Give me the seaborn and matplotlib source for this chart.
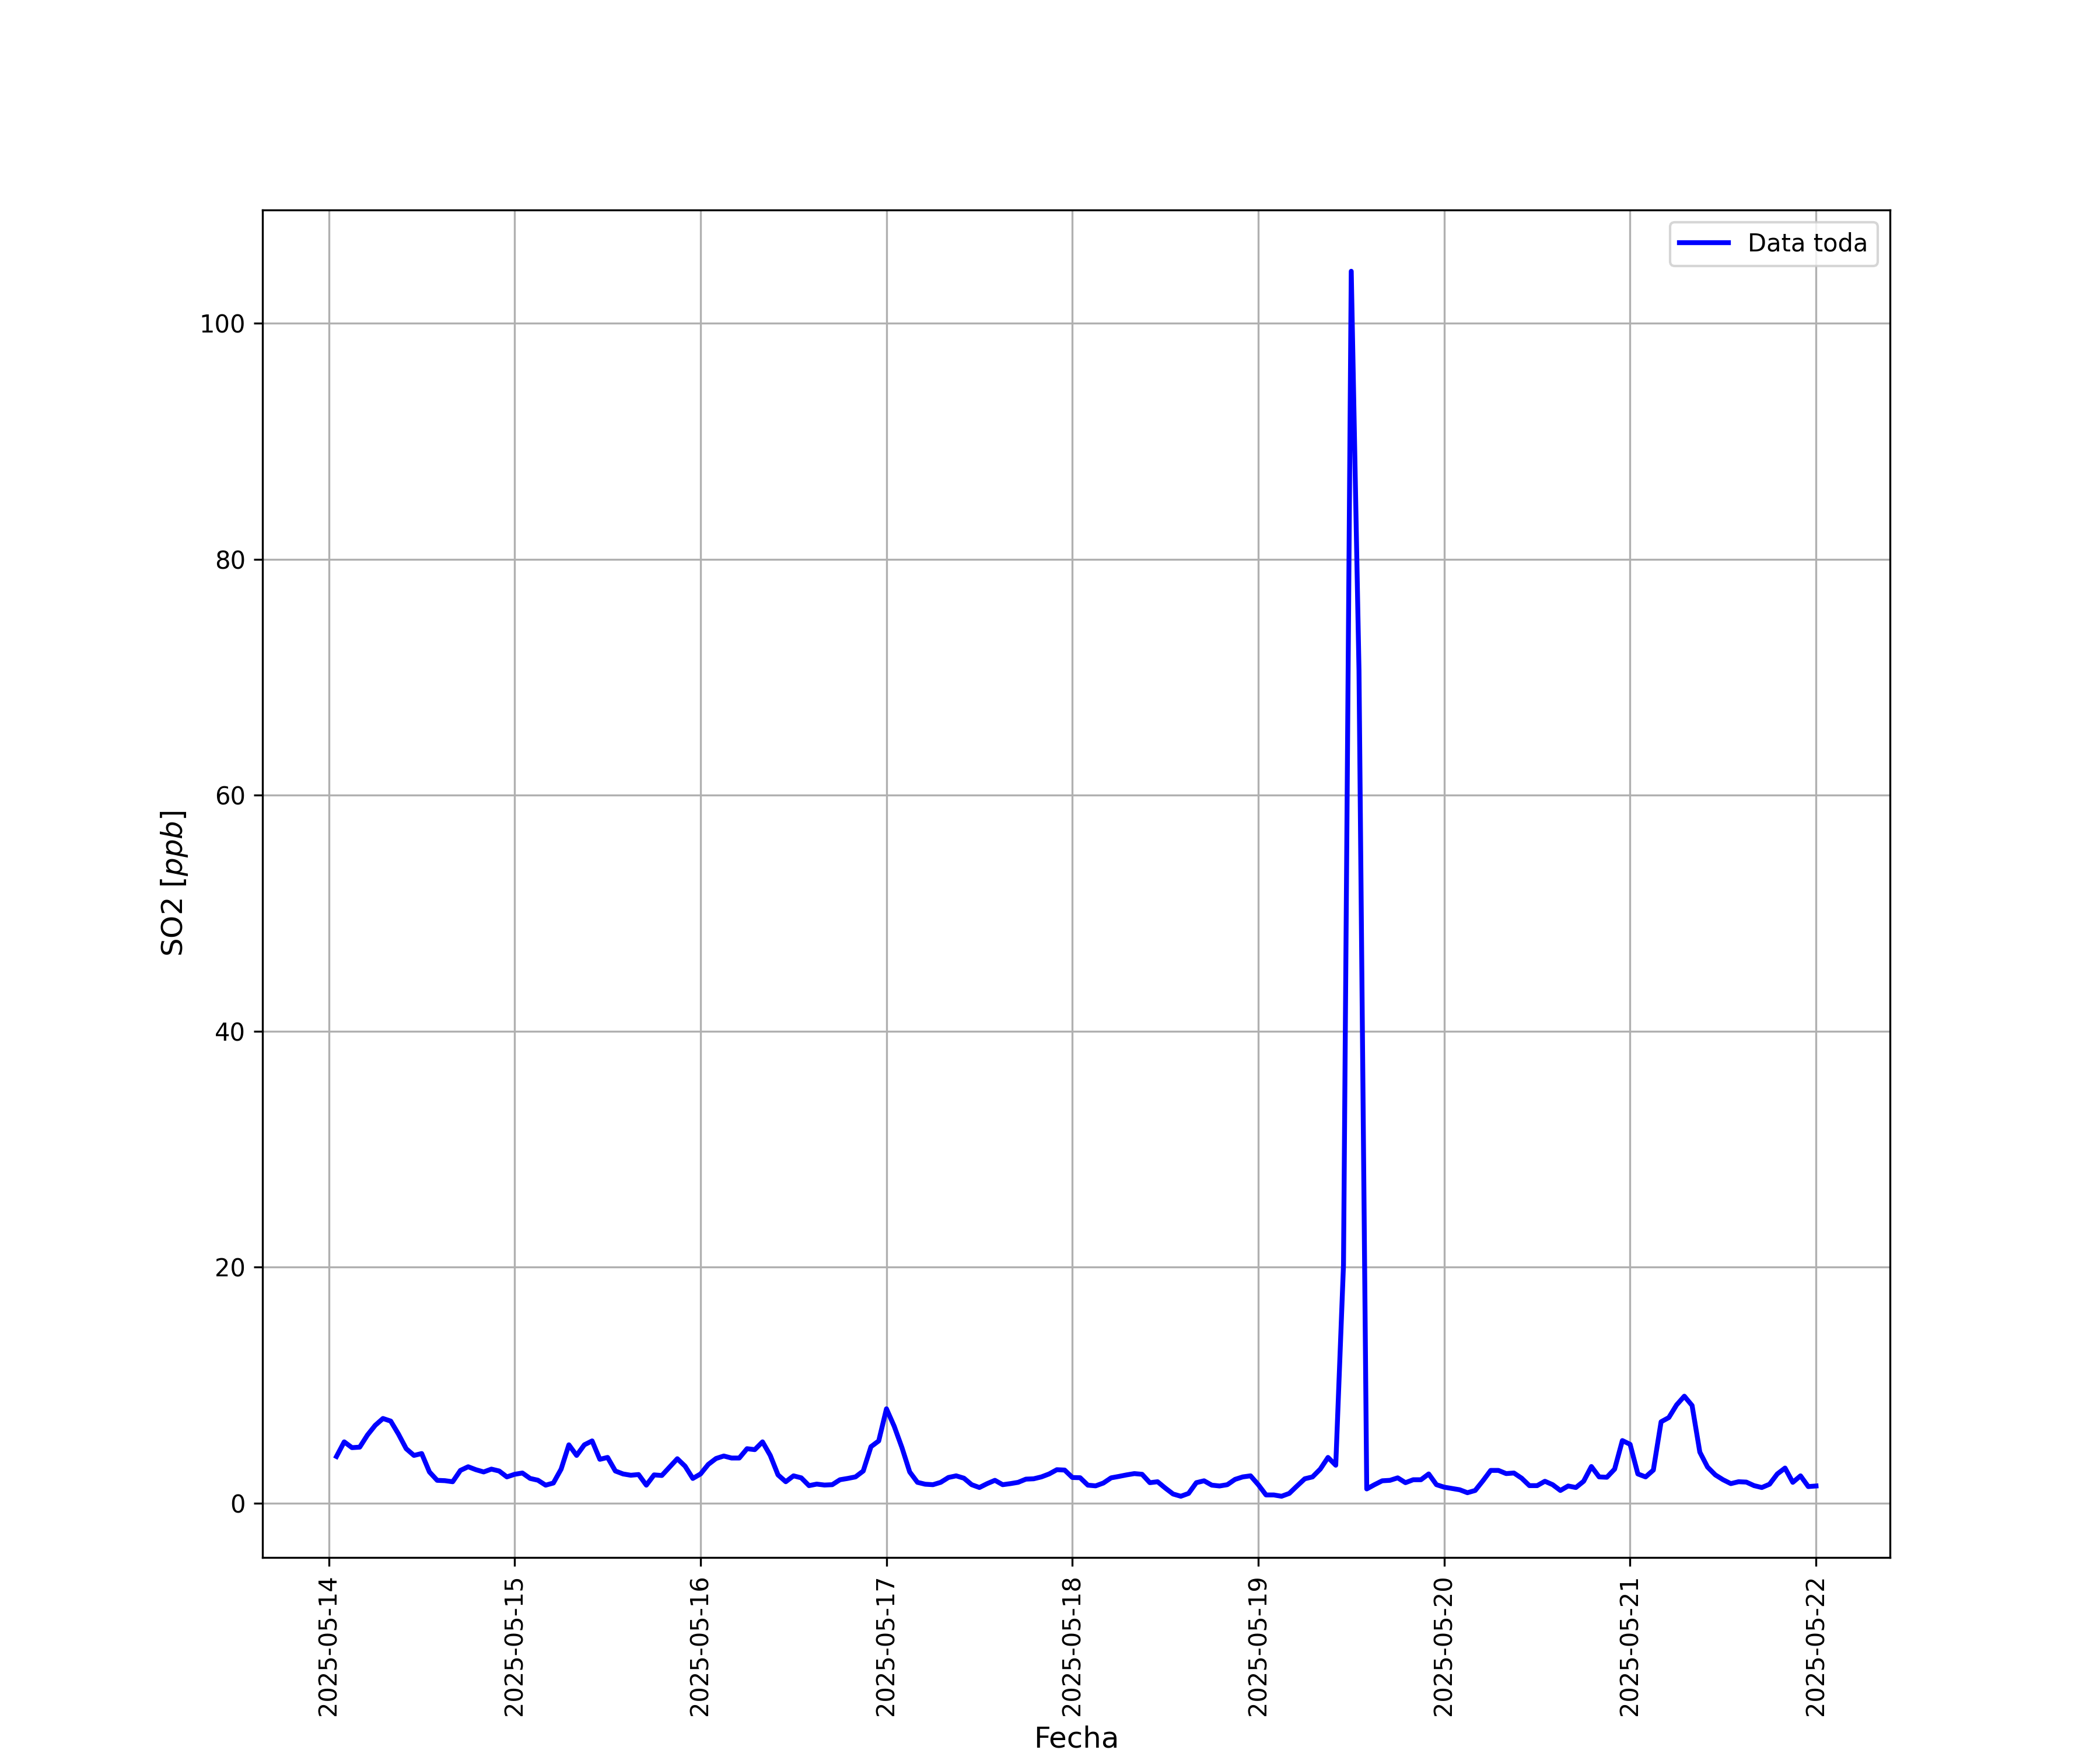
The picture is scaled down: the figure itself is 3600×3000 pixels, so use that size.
"""SO2 hourly series, May 14-22 2025."""

import matplotlib
matplotlib.use('Agg')
import matplotlib.pyplot as plt
import matplotlib.dates as mdates
import numpy as np
import pandas as pd
import seaborn as sns

# Hourly readings, starting 2025-05-14 01:00
start_time = '2025-05-14 01:00'

so2_may14 = [3.95, 5.19, 4.70, 4.74, 5.77, 6.59, 7.17, 6.95, 5.85, 4.61, 4.04, 4.20,
             2.64, 1.93, 1.90, 1.81, 2.77, 3.08, 2.83, 2.64, 2.88, 2.72, 2.22]
so2_may15 = [2.44, 2.55, 2.09, 1.94, 1.52, 1.70, 2.88, 4.94, 4.04, 4.94, 5.27, 3.71,
             3.87, 2.72, 2.47, 2.36, 2.42, 1.52, 2.39, 2.34, 3.05, 3.76, 3.13, 2.09]
so2_may16 = [2.47, 3.28, 3.78, 3.99, 3.82, 3.82, 4.61, 4.53, 5.19, 4.04, 2.39, 1.81,
             2.31, 2.14, 1.48, 1.61, 1.53, 1.56, 1.98, 2.09, 2.22, 2.72, 4.78, 5.27]
so2_may17 = [7.99, 6.51, 4.70, 2.64, 1.76, 1.60, 1.56, 1.76, 2.17, 2.31, 2.11, 1.56,
             1.32, 1.65, 1.93, 1.56, 1.65, 1.76, 2.03, 2.06, 2.22, 2.47, 2.83, 2.80]
so2_may18 = [2.17, 2.15, 1.52, 1.46, 1.70, 2.14, 2.26, 2.39, 2.50, 2.44, 1.73, 1.81,
             1.27, 0.77, 0.58, 0.82, 1.73, 1.89, 1.52, 1.45, 1.56, 2.01, 2.22, 2.31]
so2_may19 = [1.56, 0.69, 0.69, 0.58, 0.82, 1.45, 2.06, 2.22, 2.88, 3.87, 3.21, 20.2,
             104.4, 70.6, 1.2, 1.56, 1.89, 1.93, 2.14, 1.73, 1.98, 1.98, 2.47, 1.56]
so2_may20 = [1.35, 1.24, 1.13, 0.88, 1.07, 1.89, 2.77, 2.77, 2.50, 2.55, 2.11, 1.48,
             1.48, 1.85, 1.56, 1.07, 1.45, 1.32, 1.85, 3.10, 2.22, 2.19, 2.88, 5.30]
so2_may21 = [4.98, 2.47, 2.22, 2.80, 6.89, 7.25, 8.32, 9.06, 8.27, 4.32, 3.05, 2.39,
             1.98, 1.65, 1.81, 1.78, 1.48, 1.32, 1.60, 2.47, 2.97, 1.76, 2.31, 1.40]
so2_may22 = [1.45]

so2 = (so2_may14 + so2_may15 + so2_may16 + so2_may17 + so2_may18
       + so2_may19 + so2_may20 + so2_may21 + so2_may22)

df = pd.DataFrame({
    'Fecha': pd.date_range(start_time, periods=len(so2), freq='h'),
    'SO2': so2,
})

plt.style.use('default')
fig, ax = plt.subplots(figsize=(12, 10))

sns.lineplot(data=df, x='Fecha', y='SO2', ax=ax, color='blue',
             linewidth=2, label='Data toda')

ax.xaxis.set_major_locator(mdates.DayLocator())
ax.xaxis.set_major_formatter(mdates.DateFormatter('%Y-%m-%d'))
plt.setp(ax.get_xticklabels(), rotation=90)

ax.set_xlabel('Fecha', fontsize=12)
ax.set_ylabel('SO2 [$ppb$]', fontsize=12)
ax.legend(loc='upper right')
ax.grid(True)

fig.savefig('out.png', dpi=300)
